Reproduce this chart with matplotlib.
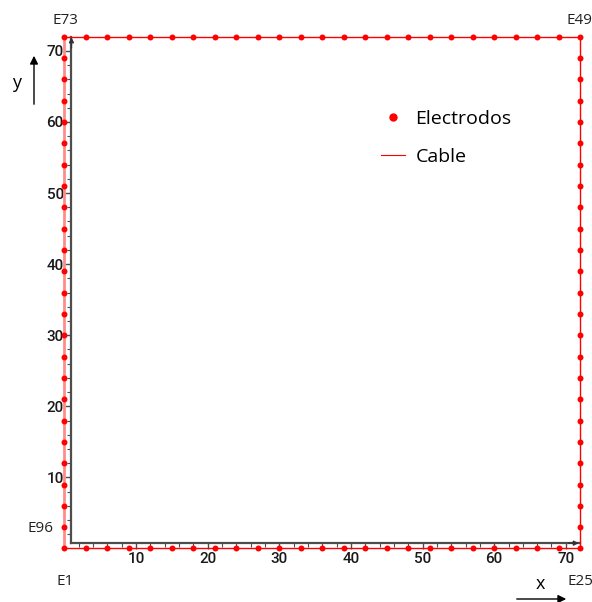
import matplotlib.pyplot as plt
from matplotlib.ticker import FixedLocator
from matplotlib.patches import FancyArrowPatch

# electrode positions along one side (m)
side = [0, 3, 6, 9, 12, 15, 18, 21, 24, 27, 30, 33, 36, 39, 42, 45, 48, 51,
        54, 57, 60, 63, 66, 69, 72]

# E1..E96, counter-clockwise from the lower-left corner
elec_x = side[:-1] + [72] * 24 + side[::-1][:-1] + [0] * 24
elec_y = [0] * 24 + side[:-1] + [72] * 24 + side[::-1][:-1]

corner_labels = ['E1', 'E25', 'E49', 'E73', 'E96']
corner_idx = [0, 24, 48, 72, 95]

major_ticks = [10, 20, 30, 40, 50, 60, 70]
minor_ticks = [2, 4, 6, 8, 12, 14, 16, 18, 22, 24, 26, 28, 32, 34, 36, 38,
               42, 44, 46, 48, 52, 54, 56, 58, 62, 64, 66, 68, 72]

txt_font = ['Open Sans', 'DejaVu Sans']
tick_font = ['Roboto', 'Liberation Sans', 'DejaVu Sans']

fig = plt.figure(figsize=(5.92, 6.02), dpi=100)
ax = fig.add_axes([0.0965, 0.0771, 0.8956, 0.8738])
ax.set_xlim(-1, 73)
ax.set_ylim(-1, 73)

# cable: closed loop through all electrodes
cx = elec_x + [elec_x[0]]
cy = elec_y + [elec_y[0]]
ax.plot(cx[:73], cy[:73], color='red', lw=1.0, zorder=3)
ax.plot(cx[72:], cy[72:], color='#ff8c8c', lw=2.0, zorder=3)
ax.plot(elec_x, elec_y, 'o', color='red', ms=4.3, mew=0, zorder=4, label='Electrodos')
ax.plot([], [], color='red', lw=0.8, label='Cable')

# spines like in the original: offset a bit from the cable
for s in ['top', 'right']:
    ax.spines[s].set_visible(False)
ax.spines['left'].set_position(('data', 1.0))
ax.spines['bottom'].set_position(('data', 0.75))
ax.spines['left'].set_bounds(0.75, 72)
ax.spines['bottom'].set_bounds(1.0, 72)
for s in ['left', 'bottom']:
    ax.spines[s].set_color('#4d4d4d')
    ax.spines[s].set_linewidth(1.6)
    ax.spines[s].set_zorder(2)

ax.xaxis.set_major_locator(FixedLocator(major_ticks))
ax.yaxis.set_major_locator(FixedLocator(major_ticks))
ax.xaxis.set_minor_locator(FixedLocator(minor_ticks))
ax.yaxis.set_minor_locator(FixedLocator(minor_ticks))
ax.tick_params(which='major', direction='out', length=4, width=1, color='#4d4d4d',
               labelsize=11, labelcolor='#1a1a1a', pad=1.5)
ax.tick_params(axis='x', which='major', pad=2.5)
ax.tick_params(which='minor', direction='out', length=3, width=0.8, color='#4d4d4d')
for lab in ax.get_xticklabels() + ax.get_yticklabels():
    lab.set_fontfamily(tick_font)
    lab.set_fontweight('medium')

# small arrowheads at the axis ends
ax.annotate('', xy=(1.0, 72.3), xytext=(1.0, 70),
            arrowprops=dict(arrowstyle='-|>', color='#333333', lw=1.0, mutation_scale=7))
ax.annotate('', xy=(72.2, 0.75), xytext=(70, 0.75),
            arrowprops=dict(arrowstyle='-|>', color='#333333', lw=1.0, mutation_scale=7))

# corner electrode labels
offsets = {'E1': (1, -33), 'E25': (0, -33), 'E49': (-1, 16), 'E73': (1, 16), 'E96': (-24, -1)}
for name, i in zip(corner_labels, corner_idx):
    ax.annotate(name, (elec_x[i], elec_y[i]), xytext=offsets[name], textcoords='offset pixels',
                ha='center', va='center', fontsize=11, family=txt_font, color='#222222',
                annotation_clip=False)

leg = ax.legend(loc='upper left', bbox_to_anchor=(0.577, 0.881), frameon=False,
                prop={'family': txt_font, 'size': 14}, handlelength=1.25,
                handletextpad=0.55, labelspacing=1.05, markerscale=1.4)

# axis direction arrows
fig.text(17 / 592, 1 - 83 / 602, 'y', ha='center', va='center', fontsize=13, family=txt_font)
fig.text(540 / 592, 1 - 584 / 602, 'x', ha='center', va='center', fontsize=13, family=txt_font)
fig.add_artist(FancyArrowPatch(
    (34 / 592, 1 - 107 / 602), (34 / 592, 1 - 53 / 602), transform=fig.transFigure,
    arrowstyle='-|>', mutation_scale=12, color='black', lw=1.0))
fig.add_artist(FancyArrowPatch(
    (514 / 592, 1 - 599 / 602), (569 / 592, 1 - 599 / 602), transform=fig.transFigure,
    arrowstyle='-|>', mutation_scale=12, color='black', lw=1.0))

fig.savefig('out.png', dpi=100)
